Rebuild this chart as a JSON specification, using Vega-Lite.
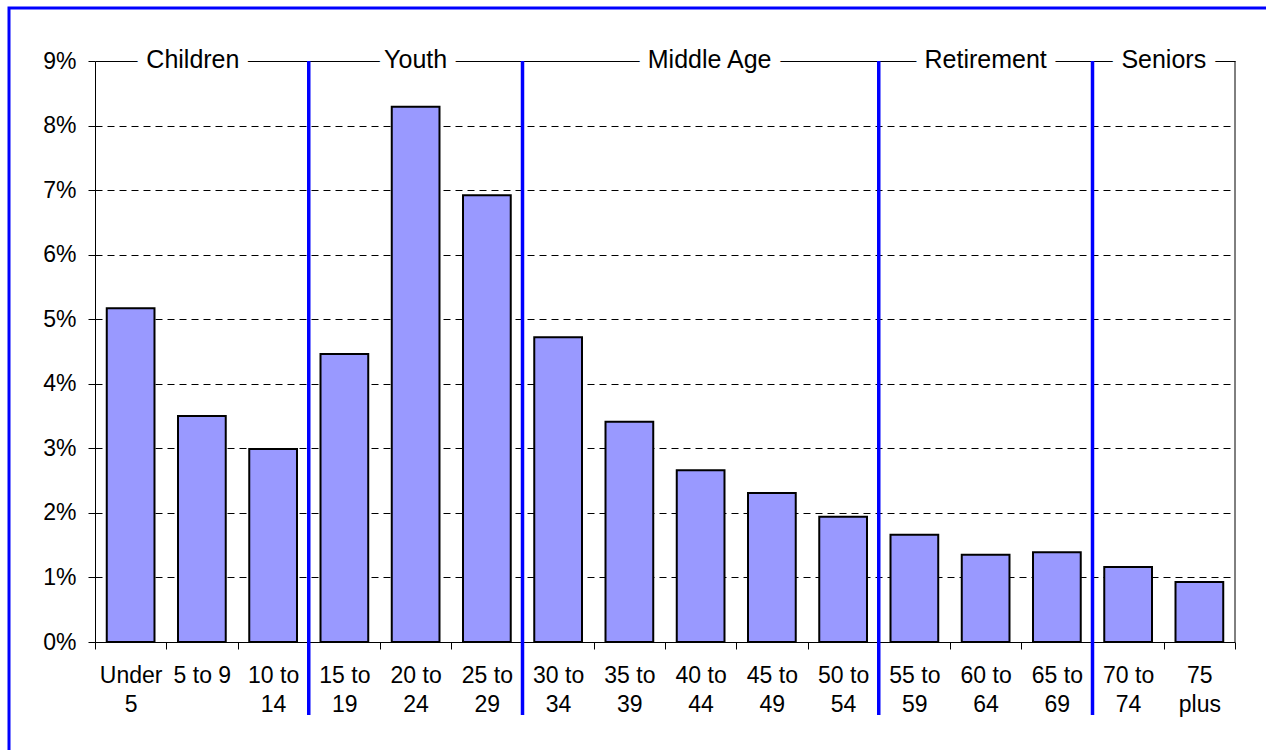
{
  "$schema": "https://vega.github.io/schema/vega-lite/v6.json",
  "width": 1259,
  "height": 744,
  "autosize": {"type": "none"},
  "padding": {"left": 9, "top": 8, "right": 0, "bottom": 0},
  "background": "white",
  "config": {
    "view": {"stroke": "#0000FF", "strokeWidth": 3, "fill": "white"},
    "font": "Liberation Sans",
    "text": {"font": "Liberation Sans"}
  },
  "datasets": {
    "ages": [
      {"age": "Under 5", "share": 0.0517},
      {"age": "5 to 9", "share": 0.0350},
      {"age": "10 to 14", "share": 0.0299},
      {"age": "15 to 19", "share": 0.0446},
      {"age": "20 to 24", "share": 0.0829},
      {"age": "25 to 29", "share": 0.0692},
      {"age": "30 to 34", "share": 0.0472},
      {"age": "35 to 39", "share": 0.0341},
      {"age": "40 to 44", "share": 0.0266},
      {"age": "45 to 49", "share": 0.0231},
      {"age": "50 to 54", "share": 0.0194},
      {"age": "55 to 59", "share": 0.0166},
      {"age": "60 to 64", "share": 0.0135},
      {"age": "65 to 69", "share": 0.0139},
      {"age": "70 to 74", "share": 0.0116},
      {"age": "75 plus", "share": 0.0093}
    ],
    "groups": [
      {"group": "Children", "center": "5 to 9"},
      {"group": "Youth", "center": "20 to 24"},
      {"group": "Middle Age", "center": "40 to 44"},
      {"group": "Retirement", "center": "60 to 64"},
      {"group": "Seniors", "center": "70 to 74"}
    ],
    "dividers": [
      {"after": "10 to 14"},
      {"after": "25 to 29"},
      {"after": "50 to 54"},
      {"after": "65 to 69"}
    ],
    "edge": [{"after": "75 plus"}]
  },
  "layer": [
    {
      "data": {"name": "ages"},
      "mark": {"type": "bar", "width": {"band": 0.67}, "fill": "#9999FF", "stroke": "black", "strokeWidth": 2},
      "encoding": {
        "x": {
          "field": "age", "type": "nominal", "sort": null,
          "scale": {
            "domain": ["Under 5", "5 to 9", "10 to 14", "15 to 19", "20 to 24", "25 to 29", "30 to 34", "35 to 39", "40 to 44", "45 to 49", "50 to 54", "55 to 59", "60 to 64", "65 to 69", "70 to 74", "75 plus"],
            "range": [86, 1226], "paddingInner": 0, "paddingOuter": 0
          },
          "axis": {
            "title": null, "offset": -110, "tickBand": "extent", "labelAngle": 0,
            "labelFontSize": 23, "labelColor": "black", "labelLineHeight": 29, "labelPadding": 15,
            "labelOverlap": false, "labelBound": false, "labelLimit": 0,
            "tickSize": 7, "tickColor": "black", "domainColor": "black", "grid": false,
            "labelExpr": "datum.label == '5 to 9' ? datum.label : [slice(datum.label, 0, lastindexof(datum.label, ' ')), slice(datum.label, lastindexof(datum.label, ' ') + 1)]"
          }
        },
        "y": {
          "field": "share", "type": "quantitative",
          "scale": {"domain": [0, 0.09], "range": [634, 53], "nice": false, "zero": true},
          "axis": {
            "title": null, "offset": -86, "values": [0, 0.01, 0.02, 0.03, 0.04, 0.05, 0.06, 0.07, 0.08, 0.09],
            "format": ".0%", "labelFontSize": 23, "labelColor": "black", "labelPadding": 12,
            "tickSize": 7, "tickColor": "black", "domainColor": "black",
            "grid": true, "gridColor": "black", "gridWidth": 1, "gridOpacity": 1,
            "gridDash": {"condition": {"test": "datum.value >= 0.089", "value": []}, "value": [7, 5]}
          }
        }
      }
    },
    {
      "data": {"name": "dividers"},
      "mark": {"type": "rule", "color": "#0000FF", "strokeWidth": 3.5},
      "encoding": {
        "x": {"field": "after", "type": "nominal", "bandPosition": 1},
        "y": {"datum": 0.09, "type": "quantitative"},
        "y2": {"datum": -0.0113}
      }
    },
    {
      "data": {"name": "edge"},
      "mark": {"type": "rule", "color": "black", "strokeWidth": 1},
      "encoding": {
        "x": {"field": "after", "type": "nominal", "bandPosition": 1},
        "y": {"datum": 0.09, "type": "quantitative"},
        "y2": {"datum": 0}
      }
    },
    {
      "data": {"name": "groups"},
      "transform": [{"filter": "datum.group == 'Youth' || datum.group == 'Retirement'"}],
      "encoding": {
        "x": {"field": "center", "type": "nominal"},
        "y": {"datum": 0.09, "type": "quantitative"},
        "text": {"field": "group"}
      },
      "layer": [
        {"mark": {"type": "text", "fontSize": 25, "baseline": "middle", "dy": -1, "fill": "white", "stroke": "white", "strokeWidth": 20, "strokeJoin": "round"}},
        {"mark": {"type": "text", "fontSize": 25, "baseline": "middle", "dy": -1, "color": "black"}}
      ]
    },
    {
      "data": {"name": "groups"},
      "transform": [{"filter": "datum.group == 'Children'"}],
      "encoding": {
        "x": {"field": "center", "type": "nominal"},
        "y": {"datum": 0.09, "type": "quantitative"},
        "text": {"field": "group"}
      },
      "layer": [
        {"mark": {"type": "text", "fontSize": 25, "baseline": "middle", "dy": -1, "dx": -9, "fill": "white", "stroke": "white", "strokeWidth": 20, "strokeJoin": "round"}},
        {"mark": {"type": "text", "fontSize": 25, "baseline": "middle", "dy": -1, "dx": -9, "color": "black"}}
      ]
    },
    {
      "data": {"name": "groups"},
      "transform": [{"filter": "datum.group == 'Middle Age'"}],
      "encoding": {
        "x": {"field": "center", "type": "nominal"},
        "y": {"datum": 0.09, "type": "quantitative"},
        "text": {"field": "group"}
      },
      "layer": [
        {"mark": {"type": "text", "fontSize": 25, "baseline": "middle", "dy": -1, "dx": 9, "fill": "white", "stroke": "white", "strokeWidth": 20, "strokeJoin": "round"}},
        {"mark": {"type": "text", "fontSize": 25, "baseline": "middle", "dy": -1, "dx": 9, "color": "black"}}
      ]
    },
    {
      "data": {"name": "groups"},
      "transform": [{"filter": "datum.group == 'Seniors'"}],
      "encoding": {
        "x": {"field": "center", "type": "nominal", "bandPosition": 1},
        "y": {"datum": 0.09, "type": "quantitative"},
        "text": {"field": "group"}
      },
      "layer": [
        {"mark": {"type": "text", "fontSize": 25, "baseline": "middle", "dy": -1, "fill": "white", "stroke": "white", "strokeWidth": 20, "strokeJoin": "round"}},
        {"mark": {"type": "text", "fontSize": 25, "baseline": "middle", "dy": -1, "color": "black"}}
      ]
    }
  ]
}
